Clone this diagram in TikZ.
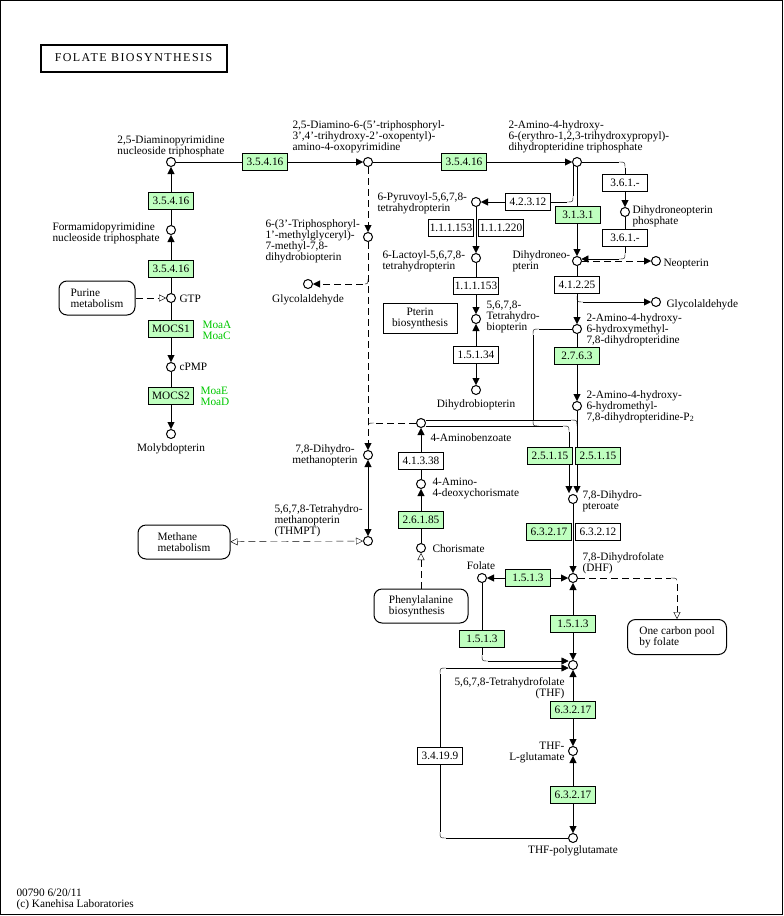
\documentclass[tikz,border=0pt]{standalone}
\usepackage{fontspec}
\setmainfont{Liberation Serif}
\newfontfamily\titlefont[LetterSpace=12]{Liberation Serif}
\usetikzlibrary{arrows.meta,calc}
\pgfdeclarelayer{bg}
\pgfsetlayers{bg,main}
\definecolor{kgreen}{RGB}{191,255,191}
\definecolor{kgtext}{RGB}{0,200,0}
\newcommand\ml[2]{\begin{tabular}[t]{@{}#1@{}}#2\end{tabular}}
% rounded corner piece: corner point, offset to start, offset to end
\newcommand\rcor[4][]{\draw[#1] ($(#2)+(#3)$) .. controls (#2) .. ($(#2)+(#4)$);}
\tikzset{
  tri/.tip={Triangle[length=7pt,width=7pt]},
  otri/.tip={Triangle[length=7pt,width=7pt,fill=white]},
}
\begin{document}
\begin{tikzpicture}[x=1pt,y=-1pt,line width=1pt,
  cpd/.style={circle,draw,fill=white,minimum size=9pt,inner sep=0pt},
  enz/.style={draw,fill=white,minimum width=45pt,minimum height=17pt,inner sep=1pt,font=\fontsize{11.3}{11}\selectfont},
  genz/.style={enz,fill=kgreen},
  lab/.style={inner sep=0pt,font=\fontsize{11.3}{11}\selectfont},
  gname/.style={lab,text=kgtext},
  mapbox/.style={draw,fill=white,rounded corners=8pt,inner sep=0pt,align=left,font=\fontsize{11.3}{11}\selectfont},
  dsh/.style={dash pattern=on 7pt off 4pt}]
\useasboundingbox (0,0) rectangle (784,916);
\draw (0.5,0.5) rectangle (782.5,914.5);
% title
\node[draw,line width=2pt,minimum width=186pt,minimum height=27pt,inner sep=0pt,font=\titlefont\fontsize{12}{12}\selectfont] (title) at (133.5,58) {FOLATE BIOSYNTHESIS};
% compounds
\node[cpd] (c1) at (171,162) {};
\node[cpd] (c2) at (171,230) {};
\node[cpd] (gtp) at (171,298) {};
\node[cpd] (cpmp) at (171,367) {};
\node[cpd] (moly) at (171,434) {};
\node[cpd] (c3) at (368,162) {};
\node[cpd] (c4) at (577,162) {};
\node[cpd] (c5) at (368,237) {};
\node[cpd] (glyA) at (308,284) {};
\node[cpd] (dmpt) at (368,455) {};
\node[cpd] (thmpt) at (368,541) {};
\node[cpd] (pyr) at (476,202) {};
\node[cpd] (lac) at (476,258) {};
\node[cpd] (thbp) at (476,319) {};
\node[cpd] (dhbp) at (476,390) {};
\node[cpd] (dnp) at (625,212) {};
\node[cpd] (dn) at (577,261) {};
\node[cpd] (neo) at (656,261) {};
\node[cpd] (glyB) at (656,302) {};
\node[cpd] (hmd) at (577,329) {};
\node[cpd] (hmdp) at (577,406) {};
\node[cpd] (pab) at (421,423) {};
\node[cpd] (adc) at (421,484) {};
\node[cpd] (chor) at (421,548) {};
\node[cpd] (pte) at (573,499) {};
\node[cpd] (dhf) at (573,578) {};
\node[cpd] (fol) at (482,578) {};
\node[cpd] (thf) at (573,665) {};
\node[cpd] (thfg) at (573,751) {};
\node[cpd] (thfpg) at (573,838) {};
% map boxes
\node[mapbox,minimum width=76pt,minimum height=34pt] (pur) at (97,298) {Purine\\metabolism};
\node[mapbox,minimum width=92pt,minimum height=34pt] (meth) at (184,542) {Methane\\metabolism};
\node[mapbox,rounded corners=0pt,align=center,minimum width=74pt,minimum height=30pt] (pterin) at (420,318) {Pterin\\biosynthesis};
\node[mapbox,minimum width=94pt,minimum height=34pt] (phe) at (421,606) {Phenylalanine\\biosynthesis};
\node[mapbox,minimum width=99pt,minimum height=35pt] (ocp) at (677,637) {One carbon pool\\by folate};
% enzymes
\node[genz] (Ea) at (171,201) {3.5.4.16};
\node[genz] (Eb) at (171,269) {3.5.4.16};
\node[genz] (mocs1) at (171,329) {MOCS1};
\node[genz] (mocs2) at (171,396) {MOCS2};
\node[genz] (Ec) at (265,162) {3.5.4.16};
\node[genz] (Ed) at (464,162) {3.5.4.16};
\node[enz] (E4231) at (528,202) {4.2.3.12};
\node[genz] (E3131) at (578,215) {3.1.3.1};
\node[enz] (E361a) at (625,183) {3.6.1.-};
\node[enz] (E361b) at (625,238) {3.6.1.-};
\node[enz] (E1153a) at (451,228) {1.1.1.153};
\node[enz] (E11220) at (501,228) {1.1.1.220};
\node[enz] (E1153b) at (476,286) {1.1.1.153};
\node[enz] (E41225) at (577,285) {4.1.2.25};
\node[genz] (E2763) at (577,356) {2.7.6.3};
\node[enz] (E15134) at (476,355) {1.5.1.34};
\node[enz] (E41338) at (421,461) {4.1.3.38};
\node[genz] (E26185) at (421,520) {2.6.1.85};
\node[genz] (E25115a) at (550,456) {2.5.1.15};
\node[genz] (E25115b) at (598,456) {2.5.1.15};
\node[genz] (E63217a) at (549,532) {6.3.2.17};
\node[enz] (E63212) at (598,532) {6.3.2.12};
\node[genz] (E1513a) at (528,578) {1.5.1.3};
\node[genz] (E1513b) at (573,624) {1.5.1.3};
\node[genz] (E1513c) at (482,639) {1.5.1.3};
\node[genz] (E63217b) at (573,710) {6.3.2.17};
\node[genz] (E63217c) at (573,795) {6.3.2.17};
\node[enz] (E34199) at (440,756) {3.4.19.9};
% gene names
\node[gname,anchor=base west] (g1) at (202,328) {\ml{l}{MoaA\\MoaC}};
\node[gname,anchor=base west] (g2) at (200,394) {\ml{l}{MoaE\\MoaD}};
% labels
\node[lab,anchor=base] (l1) at (171,143) {\ml{c}{2,5-Diaminopyrimidine\\nucleoside triphosphate}};
\node[lab,anchor=base west] (l2) at (52,230) {\ml{l}{Formamidopyrimidine\\nucleoside triphosphate}};
\node[lab,anchor=base west] (l3) at (179,302) {GTP};
\node[lab,anchor=base west] (l4) at (179,370) {cPMP};
\node[lab,anchor=base] (l5) at (171,451) {Molybdopterin};
\node[lab,anchor=base west] (l6) at (292,128) {\ml{l}{2,5-Diamino-6-(5'-triphosphoryl-\\3',4'-trihydroxy-2'-oxopentyl)-\\amino-4-oxopyrimidine}};
\node[lab,anchor=base west] (l7) at (508,128) {\ml{l}{2-Amino-4-hydroxy-\\6-(erythro-1,2,3-trihydroxypropyl)-\\dihydropteridine triphosphate}};
\node[lab,anchor=base west] (l8) at (265,227) {\ml{l}{6-(3'-Triphosphoryl-\\1'-methylglyceryl)-\\7-methyl-7,8-\\dihydrobiopterin}};
\node[lab,anchor=base] (l9) at (308,302) {Glycolaldehyde};
\node[lab,anchor=base west] (l10) at (377,200) {\ml{l}{6-Pyruvoyl-5,6,7,8-\\tetrahydropterin}};
\node[lab,anchor=base west] (l11) at (382,258) {\ml{l}{6-Lactoyl-5,6,7,8-\\tetrahydropterin}};
\node[lab,anchor=base west] (l12) at (632,213) {\ml{l}{Dihydroneopterin\\phosphate}};
\node[lab,anchor=base west] (l13) at (512,258) {\ml{l}{Dihydroneo-\\pterin}};
\node[lab,anchor=base west] (l14) at (663,266) {Neopterin};
\node[lab,anchor=base west] (l15) at (666,307) {Glycolaldehyde};
\node[lab,anchor=base west] (l16) at (586,321) {\ml{l}{2-Amino-4-hydroxy-\\6-hydroxymethyl-\\7,8-dihydropteridine}};
\node[lab,anchor=base west] (l17) at (586,398) {\ml{l}{2-Amino-4-hydroxy-\\6-hydromethyl-\\7,8-dihydropteridine-P\textsubscript{2}}};
\node[lab,anchor=base west] (l18) at (486,308) {\ml{l}{5,6,7,8-\\Tetrahydro-\\biopterin}};
\node[lab,anchor=base] (l19) at (476,407) {Dihydrobiopterin};
\node[lab,anchor=base west] (l20) at (430,441) {4-Aminobenzoate};
\node[lab,anchor=base west] (l21) at (432,485) {\ml{l}{4-Amino-\\4-deoxychorismate}};
\node[lab,anchor=base west] (l22) at (432,552) {Chorismate};
\node[lab,anchor=base] (l23) at (325,452) {\ml{c}{7,8-Dihydro-\\methanopterin}};
\node[lab,anchor=base west] (l24) at (274,512) {\ml{l}{5,6,7,8-Tetrahydro-\\methanopterin\\(THMPT)}};
\node[lab,anchor=base] (l25) at (481,569) {Folate};
\node[lab,anchor=base west] (l26) at (582,498) {\ml{l}{7,8-Dihydro-\\pteroate}};
\node[lab,anchor=base west] (l27) at (582,560) {\ml{l}{7,8-Dihydrofolate\\(DHF)}};
\node[lab,anchor=base east] (l28) at (565,685) {\ml{r}{5,6,7,8-Tetrahydrofolate\\(THF)}};
\node[lab,anchor=base east] (l29) at (565,749) {\ml{r}{THF-\\L-glutamate}};
\node[lab,anchor=base] (l30) at (573,853) {THF-polyglutamate};
\node[lab,anchor=base west] (foot) at (16,896) {\ml{l}{00790 6/20/11\\(c) Kanehisa Laboratories}};
% junction coordinates
\coordinate (jB) at (368,433);
\coordinate (jC) at (577,430);
\coordinate (jD) at (545,426);
\begin{pgfonlayer}{bg}
% left column
\draw (c2) -- (Ea); \draw[-tri] (Ea) -- (c1);
\draw (gtp) -- (Eb); \draw[-tri] (Eb) -- (c2);
\draw[dsh,-otri] (pur) -- (gtp);
\draw (gtp) -- (mocs1); \draw[-tri] (mocs1) -- (cpmp);
\draw (cpmp) -- (mocs2); \draw[-tri] (mocs2) -- (moly);
% top row
\draw (c1) -- (Ec); \draw[-tri] (Ec) -- (c3);
\draw (c3) -- (Ed); \draw[-tri] (Ed) -- (c4);
% dashed left branch
\draw[dsh,-tri] (c3) -- (c5);
\draw[dsh,-tri] (c5) -- (dmpt);
\rcor[dsh]{368,284}{0,-5}{-5,0}
\draw[dsh,-tri] (363,284) -- (glyA);
\draw[dsh] (pab) -- (374,423);
\rcor[dsh]{368,423}{6,0}{0,6}
\draw[dsh] (368,429) -- (jB);
\draw[tri-tri] (dmpt) -- (thmpt);
\draw[dsh,otri-otri] (meth) -- (thmpt);
% pterin branch
\draw ($(c4)+(-4,3)$) -- (573,196);
\rcor{573,202}{0,-6}{-6,0}
\draw (567,202) -- (E4231);
\draw[-tri] (E4231) -- (pyr);
\draw[-tri] (c4) -- (dn);
\draw (c4) -- (619,162);
\rcor{625,162}{-6,0}{0,6}
\draw (625,168) -- (E361a);
\draw[-tri] (E361a) -- (dnp);
\draw (dnp) -- (E361b);
\draw (E361b) -- (625,253);
\rcor{625,259}{0,-6}{-6,0}
\draw[-tri] (619,259) -- ($(dn)+(4.3,-2)$);
\draw[dsh,-tri] (dn) -- (neo);
\draw[-tri] (pyr) -- (lac);
\draw (lac) -- (E1153b); \draw[-tri] (E1153b) -- (thbp);
\draw[-tri] (E15134) -- (thbp); \draw[-tri] (E15134) -- (dhbp);
\draw (dn) -- (E41225); \draw[-tri] (E41225) -- (hmd);
\draw (E41225.south) -- (577,296);
\rcor{577,302}{0,-6}{6,0}
\draw[-tri] (583,302) -- (glyB);
\draw (hmd) -- (E2763); \draw[-tri] (E2763) -- (hmdp);
% dihydropteroate
\draw (hmd) -- (539,329);
\rcor{533,329}{6,0}{0,6}
\draw (533,335) -- (533,420);
\rcor{533,426}{0,-6}{6,0}
\draw (539,426) -- (jD);
\draw ($(pab)+(4.5,3)$) -- (563,426);
\rcor{569,426}{-6,0}{0,6}
\draw[-tri] (569,432) -- ($(pte)+(-4,-6)$);
\draw ($(pab)+(4.5,-3)$) -- (571,420);
\rcor{577,420}{-6,0}{0,6}
\draw (577,426) -- (jC);
\draw[-tri] (hmdp) -- ($(pte)+(4,-6)$);
\draw[-tri] (E41338) -- (pab); \draw (adc) -- (E41338);
\draw[-tri] (E26185) -- (adc); \draw (chor) -- (E26185);
\draw[dsh,-otri] (phe) -- (chor);
% folate
\draw[-tri] (pte) -- (dhf);
\draw[-tri] (E1513a) -- (fol); \draw[-tri] (E1513a) -- (dhf);
\draw[dsh] (dhf) -- (671,578);
\rcor[dsh]{677,578}{-6,0}{0,6}
\draw[dsh,-otri] (677,584) -- (ocp.north);
\draw[-tri] (E1513b) -- (dhf); \draw[-tri] (E1513b) -- (thf);
\draw (fol) -- (482,655);
\rcor{482,661}{0,-6}{6,0}
\draw[-tri] (488,661) -- ($(thf)+(-4.5,-4)$);
\draw[-tri] (E63217b) -- (thf); \draw[-tri] (E63217b) -- (thfg);
\draw[-tri] (E63217c) -- (thfg); \draw[-tri] (E63217c) -- (thfpg);
\draw (thfpg) -- (446,838);
\rcor{440,838}{6,0}{0,-6}
\draw (440,832) -- (440,674);
\rcor{440,668}{0,6}{6,0}
\draw[-tri] (446,668) -- ($(thf)+(-4.5,3)$);
\end{pgfonlayer}
\end{tikzpicture}
\end{document}
